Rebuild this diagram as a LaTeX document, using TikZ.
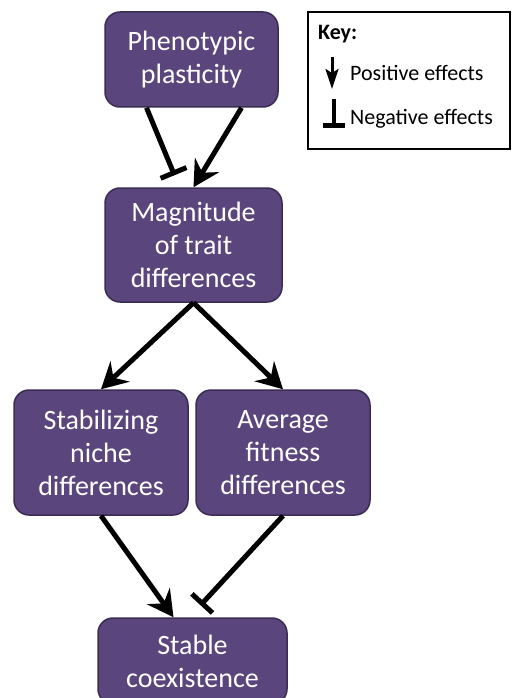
\documentclass[tikz,border=0pt]{standalone}
\usepackage{fontspec}
\setmainfont{Carlito}
\usetikzlibrary{arrows.meta,positioning,calc}
\definecolor{boxfill}{RGB}{90,70,124}
\definecolor{boxline}{RGB}{58,44,82}

\begin{document}
\begin{tikzpicture}[x=1pt, y=-1pt,
    box/.style={draw=boxline, line width=1.5pt, fill=boxfill, rounded corners=15pt,
      text=white, align=center, inner sep=0pt, font=\fontsize{28}{33}\selectfont},
    posarrow/.style={line width=5pt, -{Stealth[length=26pt, width=28pt, inset=9pt]}},
    negarrow/.style={line width=5pt, -{Bar[width=28pt]}},
    keytxt/.style={anchor=west, inner sep=0pt, font=\fontsize{22}{26}\selectfont}]
  \useasboundingbox (0,0) rectangle (511,698);
  % main boxes
  \node[box, minimum width=173pt, minimum height=95pt]  (phen)   at (191.5,59.5) {Phenotypic\\plasticity};
  \node[box, minimum width=177pt, minimum height=114pt] (mag)    at (193.5,245)  {Magnitude\\of trait\\differences};
  \node[box, minimum width=174pt, minimum height=125pt] (stab)   at (101,452.5)  {Stabilizing\\niche\\differences};
  \node[box, minimum width=174pt, minimum height=125pt] (avg)    at (283,452.5)  {Average\\fitness\\differences};
  \node[box, minimum width=189pt, minimum height=86pt]  (stable) at (192.5,661)  {Stable\\coexistence};
  % effects
  \draw[negarrow] ([xshift=-45pt]phen.south) -- ([xshift=-19pt,yshift=12pt]mag.north);
  \draw[posarrow] ([xshift=50pt]phen.south) -- (mag.north);
  \draw[posarrow] (mag.south) -- (stab.north);
  \draw[posarrow] (mag.south) -- (avg.north);
  \draw[posarrow] (stab.south) -- ([xshift=-19pt]stable.north);
  \draw[negarrow] (avg.south) -- ([xshift=8pt,yshift=12pt]stable.north);
  % key
  \node[draw=black, line width=1.5pt, minimum width=202pt, minimum height=137pt, inner sep=0pt] (key) at (409,80.5) {};
  \node[keytxt, font=\fontsize{22}{26}\selectfont\bfseries] (keyhead) at (318,34) {Key:};
  \node[keytxt] (keypos) at (350,73) {Positive effects};
  \node[keytxt] (keyneg) at (350,119) {Negative effects};
  \coordinate (pa) at (332,57);
  \coordinate (pb) at (332,89);
  \coordinate (na) at (334,99);
  \coordinate (nb) at (334,128);
  \draw[line width=3pt, -{Stealth[length=20pt, width=13pt, inset=4pt]}] (pa) -- (pb);
  \draw[line width=4pt, -{Bar[width=22pt, line width=5pt]}] (na) -- (nb);
\end{tikzpicture}
\end{document}
